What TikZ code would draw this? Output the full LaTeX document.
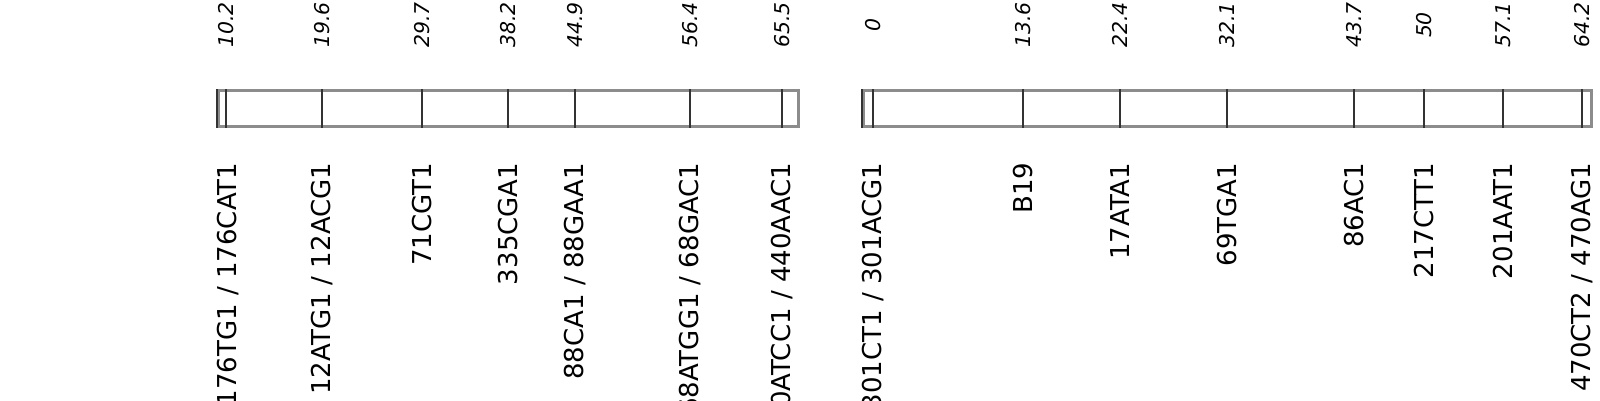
\documentclass[tikz,border=0pt]{standalone}
\usepackage{fontspec}
\setmainfont{DejaVu Sans}
\usepackage{xcolor}
\usepackage{tikz}
\usetikzlibrary{positioning, calc}
\definecolor{BarColor}{rgb}{0.55,0.55,0.55}
\definecolor{TickColor}{rgb}{0.2,0.2,0.2}
\tikzset{
    chrom/.style={
        rectangle,
        anchor=west,
        minimum height=0.36cm,
        inner sep=0pt,
        draw=BarColor,
        line width=0.85pt
    },
    tick/.style={draw=TickColor, line width=0.8pt},
    posl/.style={rotate=90, inner sep=0pt, font=\fontsize{5.8}{6}\selectfont\itshape},
    markl/.style={rotate=90, anchor=east, inner sep=0pt, font=\fontsize{7.4}{8}\selectfont}
}
\begin{document}
\begin{tikzpicture}
\useasboundingbox (0,0) rectangle (16,4);

% Group 1
\node[chrom, minimum width=5.80cm] (bar1) at (2.17,2.92) {};
\draw[tick] (bar1.south west) -- (bar1.north west);

\node[posl] (p_a1) at (2.26,3.75) {10.2};
\draw[tick] (p_a1 |- bar1.south) -- (p_a1 |- bar1.north);
\node[markl] (m_a1) at (2.28,2.38) {176TG1 / 176CAT1};

\node[posl] (p_a2) at (3.22,3.75) {19.6};
\draw[tick] (p_a2 |- bar1.south) -- (p_a2 |- bar1.north);
\node[markl] (m_a2) at (3.22,2.38) {12ATG1 / 12ACG1};

\node[posl] (p_a3) at (4.22,3.75) {29.7};
\draw[tick] (p_a3 |- bar1.south) -- (p_a3 |- bar1.north);
\node[markl] (m_a3) at (4.22,2.38) {71CGT1};

\node[posl] (p_a4) at (5.08,3.75) {38.2};
\draw[tick] (p_a4 |- bar1.south) -- (p_a4 |- bar1.north);
\node[markl] (m_a4) at (5.08,2.38) {335CGA1};

\node[posl] (p_a5) at (5.75,3.75) {44.9};
\draw[tick] (p_a5 |- bar1.south) -- (p_a5 |- bar1.north);
\node[markl] (m_a5) at (5.75,2.38) {88CA1 / 88GAA1};

\node[posl] (p_a6) at (6.90,3.75) {56.4};
\draw[tick] (p_a6 |- bar1.south) -- (p_a6 |- bar1.north);
\node[markl] (m_a6) at (6.90,2.38) {68ATGG1 / 68GAC1};

\node[posl] (p_a7) at (7.82,3.75) {65.5};
\draw[tick] (p_a7 |- bar1.south) -- (p_a7 |- bar1.north);
\node[markl] (m_a7) at (7.82,2.38) {440ATCC1 / 440AAC1};

% Group 2
\node[chrom, minimum width=7.28cm] (bar2) at (8.62,2.92) {};
\draw[tick] (bar2.south west) -- (bar2.north west);

\node[posl] (p_b1) at (8.73,3.75) {0};
\draw[tick] (p_b1 |- bar2.south) -- (p_b1 |- bar2.north);
\node[markl] (m_b1) at (8.73,2.38) {301CT1 / 301ACG1};

\node[posl] (p_b2) at (10.23,3.75) {13.6};
\draw[tick] (p_b2 |- bar2.south) -- (p_b2 |- bar2.north);
\node[markl] (m_b2) at (10.23,2.38) {B19};

\node[posl] (p_b3) at (11.20,3.75) {22.4};
\draw[tick] (p_b3 |- bar2.south) -- (p_b3 |- bar2.north);
\node[markl] (m_b3) at (11.20,2.38) {17ATA1};

\node[posl] (p_b4) at (12.27,3.75) {32.1};
\draw[tick] (p_b4 |- bar2.south) -- (p_b4 |- bar2.north);
\node[markl] (m_b4) at (12.27,2.38) {69TGA1};

\node[posl] (p_b5) at (13.54,3.75) {43.7};
\draw[tick] (p_b5 |- bar2.south) -- (p_b5 |- bar2.north);
\node[markl] (m_b5) at (13.54,2.38) {86AC1};

\node[posl] (p_b6) at (14.24,3.75) {50};
\draw[tick] (p_b6 |- bar2.south) -- (p_b6 |- bar2.north);
\node[markl] (m_b6) at (14.24,2.38) {217CTT1};

\node[posl] (p_b7) at (15.03,3.75) {57.1};
\draw[tick] (p_b7 |- bar2.south) -- (p_b7 |- bar2.north);
\node[markl] (m_b7) at (15.03,2.38) {201AAT1};

\node[posl] (p_b8) at (15.82,3.75) {64.2};
\draw[tick] (p_b8 |- bar2.south) -- (p_b8 |- bar2.north);
\node[markl] (m_b8) at (15.82,2.38) {470CT2 / 470AG1};

\end{tikzpicture}
\end{document}
